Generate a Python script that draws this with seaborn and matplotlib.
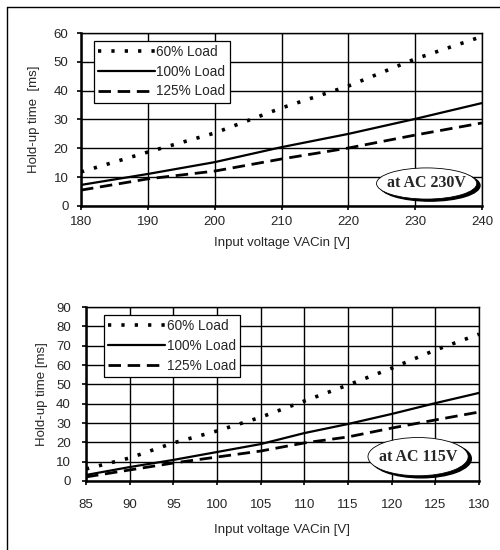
import pandas as pd
import matplotlib
matplotlib.use('Agg')
import seaborn as sns
import matplotlib.pyplot as plt
from matplotlib.patches import Ellipse
from matplotlib.lines import Line2D

# AC 230V input
v230 = [180, 190, 200, 210, 220, 230, 240]
load60_230 = [11.8, 18.7, 25.3, 34.0, 41.6, 51.0, 58.8]
load100_230 = [7.3, 11.1, 15.2, 20.4, 25.0, 30.2, 35.7]
load125_230 = [5.5, 9.4, 12.1, 16.3, 20.1, 24.6, 28.8]

# AC 115V input
v115 = [85, 90, 95, 100, 105, 110, 115, 120, 125, 130]
load60_115 = [6.2, 11.9, 19.7, 25.9, 33.0, 41.4, 49.7, 58.4, 67.8, 76.0]
load100_115 = [3.1, 7.2, 10.9, 15.0, 19.1, 24.8, 29.5, 34.7, 40.3, 45.6]
load125_115 = [2.1, 5.7, 9.3, 12.4, 15.5, 19.7, 22.8, 27.4, 31.6, 35.7]

labels = ['60% Load', '100% Load', '125% Load']

sns.set_style('white')
plt.rcParams['font.family'] = ['Liberation Sans', 'DejaVu Sans']
plt.rcParams['font.size'] = 9.5

fig = plt.figure(figsize=(5, 5.5), dpi=100)
ax1 = fig.add_axes([0.162, 0.6255, 0.802, 0.3145])
ax2 = fig.add_axes([0.172, 0.1255, 0.786, 0.316])

styles = [dict(linestyle=(0, (0.9, 2.8)), linewidth=2.6),
          dict(linestyle='-', linewidth=1.6),
          dict(linestyle=(0, (4.5, 2.4)), linewidth=2.0)]


def draw(ax, x, series, xlim, xticks, ylim, yticks, ylabel, note,
         leg_anchor, ell, xpad, ypad, xlpad, ylpad):
    for y, lab, st in zip(series, labels, styles):
        df = pd.DataFrame({'v': x, 't': y})
        sns.lineplot(data=df, x='v', y='t', color='black', label=lab,
                     ax=ax, **st)
    ax.set_xlim(*xlim)
    ax.set_ylim(*ylim)
    ax.set_xticks(xticks)
    ax.set_yticks(yticks)
    ax.grid(True, color='black', linewidth=1.0)
    ax.set_axisbelow(True)
    for s in ['top', 'right']:
        ax.spines[s].set_linewidth(1.0)
        ax.spines[s].set_color('black')
    for s in ['left', 'bottom']:
        ax.spines[s].set_linewidth(1.8)
        ax.spines[s].set_color('black')
    ax.tick_params(direction='out', length=3, width=1.2, color='black',
                   left=True, bottom=True, labelsize=9.5)
    ax.tick_params(axis='x', pad=xpad)
    ax.tick_params(axis='y', pad=ypad)
    ax.set_xlabel('Input voltage VACin [V]', fontsize=9.5, labelpad=xlpad)
    ax.set_ylabel(ylabel, fontsize=9.5, labelpad=ylpad)
    leg = ax.legend(loc='upper left', bbox_to_anchor=leg_anchor,
                    borderaxespad=0, fancybox=False, framealpha=1,
                    edgecolor='black', handlelength=4.2, handletextpad=0.1,
                    labelspacing=0.42, borderpad=0.3, fontsize=9.8)
    leg.get_frame().set_linewidth(0.9)
    cx, cy, w, h = ell
    ax.add_patch(Ellipse((cx + 0.008, cy - 0.012), w, h, transform=ax.transAxes,
                         facecolor='black', edgecolor='black', zorder=5))
    ax.add_patch(Ellipse((cx, cy), w, h, transform=ax.transAxes,
                         facecolor='white', edgecolor='black', linewidth=0.6,
                         zorder=6))
    ax.text(cx, cy, note, transform=ax.transAxes, ha='center', va='center',
            fontsize=11.5, fontweight='bold', family=['Liberation Serif'],
            zorder=7)


draw(ax1, v230, [load60_230, load100_230, load125_230], (180, 240),
     range(180, 241, 10), (0, 60), range(0, 61, 10), 'Hold-up time  [ms]',
     'at AC 230V', (0.032, 0.954), (0.862, 0.13, 0.25, 0.18),
     4, 6, 7, 10)
draw(ax2, v115, [load60_115, load100_115, load125_115], (85, 130),
     range(85, 131, 5), (0, 90), range(0, 91, 10), 'Hold-up time [ms]',
     'at AC 115V', (0.046, 0.954), (0.845, 0.14, 0.255, 0.22),
     10, 8, 9, 6)

# outer frame
fig.add_artist(Line2D([7 / 500, 1], [1 - 7 / 550, 1 - 7 / 550],
                      transform=fig.transFigure, color='black', linewidth=1))
fig.add_artist(Line2D([7 / 500, 7 / 500], [0, 1 - 7 / 550],
                      transform=fig.transFigure, color='black', linewidth=1))

plt.savefig('out.png', dpi=100)
